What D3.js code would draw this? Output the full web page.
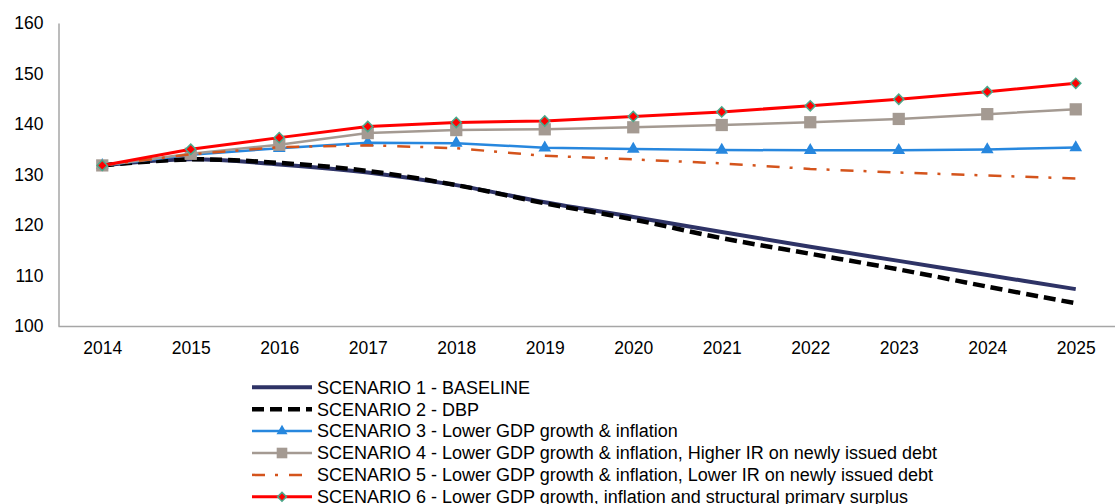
<!DOCTYPE html>
<html>
<head>
<meta charset="utf-8">
<script src="https://cdn.jsdelivr.net/npm/d3@7"></script>
<style>
  body { margin: 0; background: #fff; }
  svg { display: block; }
  .axis text { font-family: "Liberation Sans", Arial, sans-serif; font-size: 17.5px; fill: #000; }
  .axis path { stroke: #a6a6a6; stroke-width: 1.5; }
  .legend text { font-family: "Liberation Sans", Arial, sans-serif; font-size: 18px; fill: #000; }
</style>
</head>
<body>
<script>
var width = 1115,
    height = 504;

// data
var years = ["2014","2015","2016","2017","2018","2019","2020","2021","2022","2023","2024","2025"];
var yTicks = [100, 110, 120, 130, 140, 150, 160];

var baseline   = [131.8, 133.0, 132.0, 130.4, 127.9, 124.5, 121.6, 118.6, 115.7, 112.9, 110.1, 107.3];
var dbp        = [131.8, 133.0, 132.3, 130.7, 127.9, 124.3, 121.1, 117.4, 114.3, 111.2, 107.8, 104.5];
var lowGrowth  = [131.8, 133.9, 135.2, 136.3, 136.2, 135.3, 135.05, 134.85, 134.8, 134.8, 134.95, 135.35];
var higherIR   = [131.8, 134.1, 135.9, 138.2, 138.8, 138.95, 139.35, 139.8, 140.35, 141.0, 141.95, 142.9];
var lowerIR    = [131.8, 134.0, 135.4, 135.8, 135.2, 133.7, 133.0, 132.2, 131.1, 130.4, 129.8, 129.2];
var surplus    = [131.8, 135.0, 137.3, 139.5, 140.3, 140.6, 141.5, 142.4, 143.6, 144.9, 146.4, 148.05];

var names = [
  "SCENARIO 1 - BASELINE",
  "SCENARIO 2 - DBP",
  "SCENARIO 3 - Lower GDP growth & inflation",
  "SCENARIO 4 - Lower GDP growth & inflation, Higher IR on newly issued debt",
  "SCENARIO 5 - Lower GDP growth & inflation, Lower IR on newly issued debt",
  "SCENARIO 6 - Lower GDP growth, inflation and structural primary surplus"
];

var series = [
  {name: names[0], values: baseline,  color: "#2e3366", w: 4,   dash: null,          smooth: true,  marker: null},
  {name: names[1], values: dbp,       color: "#000000", w: 4.5, dash: "12,6",        smooth: true,  marker: null},
  {name: names[2], values: lowGrowth, color: "#2787de", w: 2.5, dash: null,          smooth: false, marker: "triangle"},
  {name: names[3], values: higherIR,  color: "#a49a92", w: 2.5, dash: null,          smooth: false, marker: "square"},
  {name: names[4], values: lowerIR,   color: "#d4541c", w: 2.5, dash: "13,10,3,11",  smooth: false, marker: null},
  {name: names[5], values: surplus,   color: "#ff0000", w: 3,   dash: null,          smooth: false, marker: "diamond"}
];

var svg = d3.select("body").append("svg").attr("width", width).attr("height", height);

var x = d3.scalePoint().domain(years).range([58, 1120]).padding(0.5);
var y = d3.scaleLinear().domain([100, 160]).range([326, 23]);

// axes
svg.append("g").attr("class", "axis")
    .attr("transform", "translate(58.5,0)")
    .call(d3.axisLeft(y).tickValues(yTicks).tickSize(0).tickSizeOuter(0).tickPadding(15));

svg.append("g").attr("class", "axis")
    .attr("transform", "translate(0,326)")
    .call(d3.axisBottom(x).tickSize(0).tickSizeOuter(0).tickPadding(15.5));

function markerPath(type, scale) {
  scale = scale || 1;
  if (type == "triangle") return d3.symbol(d3.symbolTriangle).size(70 * scale)();
  if (type == "square") return d3.symbol(d3.symbolSquare).size(150 * scale)();
  if (type == "diamond") return d3.symbol(d3.symbolSquare).size(52 * scale)();
  return null;
}

var plot = svg.append("g");

series.forEach(function (s) {
  var line = d3.line()
      .x((d, i) => x(years[i]))
      .y((d) => y(d))
      .curve(s.smooth ? d3.curveCardinal.tension(0) : d3.curveLinear);

  plot.append("path")
      .datum(s.values)
      .attr("d", line)
      .attr("fill", "none")
      .attr("stroke", s.color)
      .attr("stroke-width", s.w)
      .attr("stroke-dasharray", s.dash)
      .attr("stroke-linejoin", "round");

  if (s.marker) {
    plot.selectAll(null).data(s.values).enter().append("path")
        .attr("d", markerPath(s.marker))
        .attr("transform", function (d, i) {
          var t = "translate(" + x(years[i]) + "," + y(d) + ")";
          if (s.marker == "diamond") t += " rotate(45)";
          return t;
        })
        .attr("fill", s.color)
        .attr("stroke", s.marker == "diamond" ? "#4aa88a" : "none")
        .attr("stroke-width", 1.5);
  }
});

// legend
var legend = svg.append("g").attr("class", "legend").attr("transform", "translate(252,387.3)");
var rowH = 21.9;

series.forEach(function (s, i) {
  var row = legend.append("g").attr("transform", "translate(0," + (i * rowH) + ")");
  row.append("line")
      .attr("x1", 0).attr("x2", 60)
      .attr("y1", 0).attr("y2", 0)
      .attr("stroke", s.color)
      .attr("stroke-width", s.w)
      .attr("stroke-dasharray", s.dash);
  if (s.marker) {
    row.append("path")
        .attr("d", markerPath(s.marker, 0.75))
        .attr("transform", "translate(30,0)" + (s.marker == "diamond" ? " rotate(45)" : ""))
        .attr("fill", s.color)
        .attr("stroke", s.marker == "diamond" ? "#4aa88a" : "none")
        .attr("stroke-width", 1.5);
  }
  row.append("text")
      .attr("x", 65)
      .attr("dy", "0.35em")
      .text(s.name);
});
</script>
</body>
</html>
